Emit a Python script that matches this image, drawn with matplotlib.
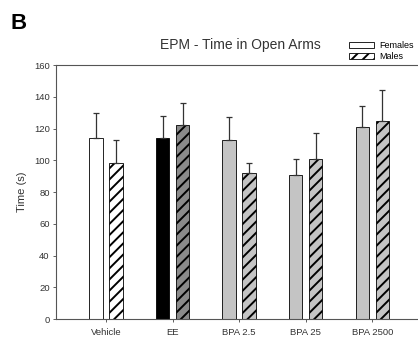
import numpy as np
import matplotlib.pyplot as plt
from matplotlib.patches import Patch

plt.rcParams['font.family'] = ['Liberation Sans', 'DejaVu Sans']
plt.rcParams['hatch.linewidth'] = 1.4

# ===================== data =====================
groups = ['Vehicle', 'EE', 'BPA 2.5', 'BPA 25', 'BPA 2500']
females = [114, 114, 113, 91, 121]
females_err = [16, 14, 14, 10, 13]
males = [98, 122, 92, 101, 125]
males_err = [15, 14, 6, 16, 19]
fem_colors = ['white', 'black', '#c4c4c4', '#c4c4c4', '#c4c4c4']
male_colors = ['white', '#8a8a8a', '#c4c4c4', '#c4c4c4', '#c4c4c4']

# ===================== figure =====================
fig = plt.figure(figsize=(4.18, 3.37), dpi=100)
ax = fig.add_axes([0.134, 0.0534, 0.876, 0.7537])

x = np.arange(len(groups))
w = 0.2
off = 0.15

ax.bar(x - off, females, w, color=fem_colors, edgecolor='black', linewidth=0.6,
       yerr=[np.zeros(len(groups)), females_err], capsize=2.5,
       error_kw=dict(elinewidth=0.9, capthick=0.9, ecolor='#333333'))
ax.bar(x + off, males, w, color=male_colors, edgecolor='black', linewidth=0.6,
       hatch='///',
       yerr=[np.zeros(len(groups)), males_err], capsize=2.5,
       error_kw=dict(elinewidth=0.9, capthick=0.9, ecolor='#333333'))

ax.set_xlim(-0.75, 4.75)
ax.set_ylim(0, 160)
ax.set_yticks(np.arange(0, 161, 20))
ax.set_xticks(x)
ax.set_xticklabels(groups)
ax.tick_params(axis='both', labelsize=6.8, length=2.5, width=0.6, colors='#444444',
               labelcolor='#333333', pad=2)
ax.tick_params(axis='x', pad=4)
for s in ['left', 'bottom', 'top']:
    ax.spines[s].set_linewidth(0.8)
    ax.spines[s].set_color('#555555')
ax.spines['right'].set_visible(False)

ax.set_ylabel('Time (s)', fontsize=8, color='#333333', labelpad=5)

fig.text(0.575, 0.866, 'EPM - Time in Open Arms', fontsize=10, ha='center', va='center',
         color='#333333')
fig.text(0.025, 0.93, 'B', fontsize=16, fontweight='bold', ha='left', va='center')

handles = [Patch(facecolor='white', edgecolor='black', linewidth=0.6, label='Females'),
           Patch(facecolor='white', edgecolor='black', linewidth=0.6, hatch='///', label='Males')]
fig.legend(handles=handles, loc='upper left', bbox_to_anchor=(0.835, 0.878), frameon=False,
           fontsize=6.5, handlelength=2.8, handleheight=0.55, labelspacing=0.25,
           handletextpad=0.5, borderaxespad=0, borderpad=0)

fig.savefig('out.png', dpi=100)
